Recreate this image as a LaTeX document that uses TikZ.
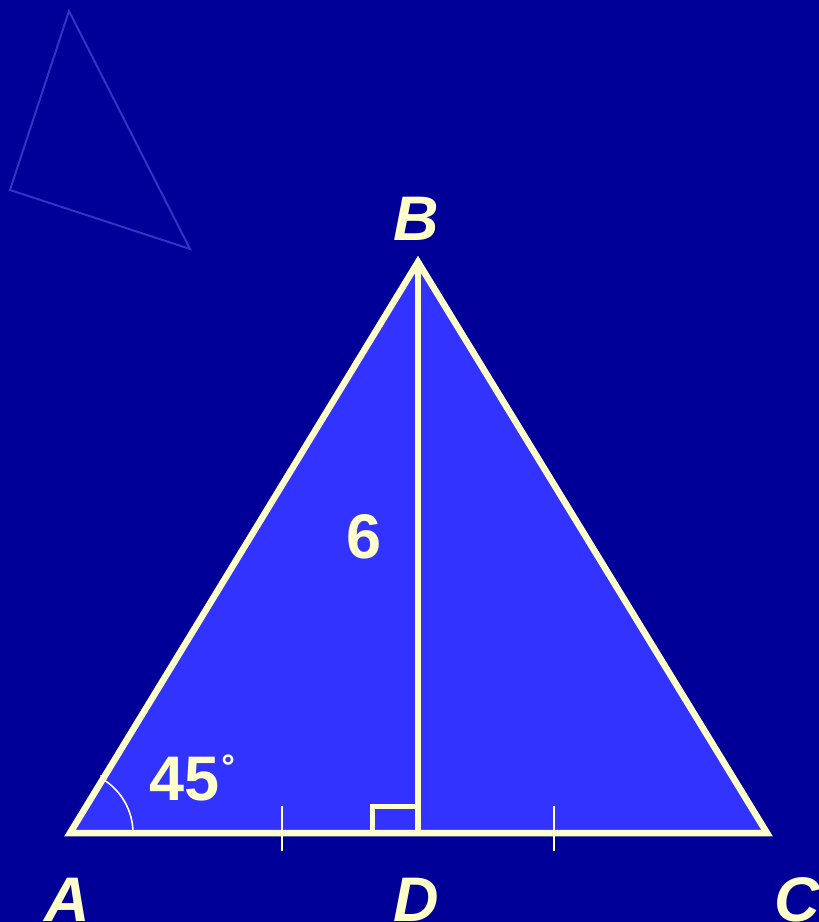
\documentclass[tikz,border=0pt]{standalone}
\usepackage{fontspec}
\setmainfont{Liberation Sans}
\usetikzlibrary{calc}
\definecolor{bg}{HTML}{000099}
\definecolor{tri}{HTML}{3333FF}
\definecolor{ln}{HTML}{FFFFCC}
\definecolor{ghost}{HTML}{3333CC}
\begin{document}
\begin{tikzpicture}[x=1pt,y=-1pt,
  lbl/.style={text=ln,font=\fontsize{63}{63}\selectfont\bfseries\itshape,inner sep=0pt},
  num/.style={text=ln,font=\fontsize{63}{63}\selectfont\bfseries,inner sep=0pt},
  edge/.style={draw=ln,line width=6.5pt,line join=miter},
  thin/.style={draw=ln,line width=1.6pt}]
\fill[bg] (0,0) rectangle (819,922);
\useasboundingbox (0,0) rectangle (819,922);
% ghost triangle
\draw[ghost,line width=2pt,line join=miter] (69,11) -- (10,190) -- (190,249) -- cycle;
% main triangle
\coordinate (A) at (70,833);
\coordinate (B) at (418,262);
\coordinate (C) at (767,833);
\coordinate (D) at (418,833);
\coordinate (R1) at (372,833);
\coordinate (R2) at (372,806);
\coordinate (R3) at (418,806);
\fill[tri] (A) -- (B) -- (C) -- cycle;
% angle arc
\draw[thin] ($(A)+(63,0)$) arc[start angle=0,end angle=-58.6,radius=63];
\draw[thin] (101,775) -- (103,781);
% ticks
\coordinate (t1) at (282,806); \coordinate (t1b) at (282,851);
\coordinate (t2) at (554,806); \coordinate (t2b) at (554,851);
\draw[thin] (t1) -- (t1b);
\draw[thin] (t2) -- (t2b);
% right angle
\draw[edge,line width=5pt] (R1) -- (R2) -- (R3);
% altitude
\draw[edge,line width=5.5pt] (B) -- (D);
\draw[edge] (A) -- (B) -- (C) -- cycle;
% labels
\node[lbl] (lB) at (416,219) {B};
\node[lbl] (lA) at (67,900) {A};
\node[lbl] (lD) at (416,900) {D};
\node[lbl] (lC) at (797,900) {C};
\node[num] (six) at (364,537) {6};
\node[num,anchor=west] (ang) at (149,778) {45\raisebox{0.34em}{\hspace{2pt}\fontsize{34}{34}\selectfont °}};
\end{tikzpicture}
\end{document}
